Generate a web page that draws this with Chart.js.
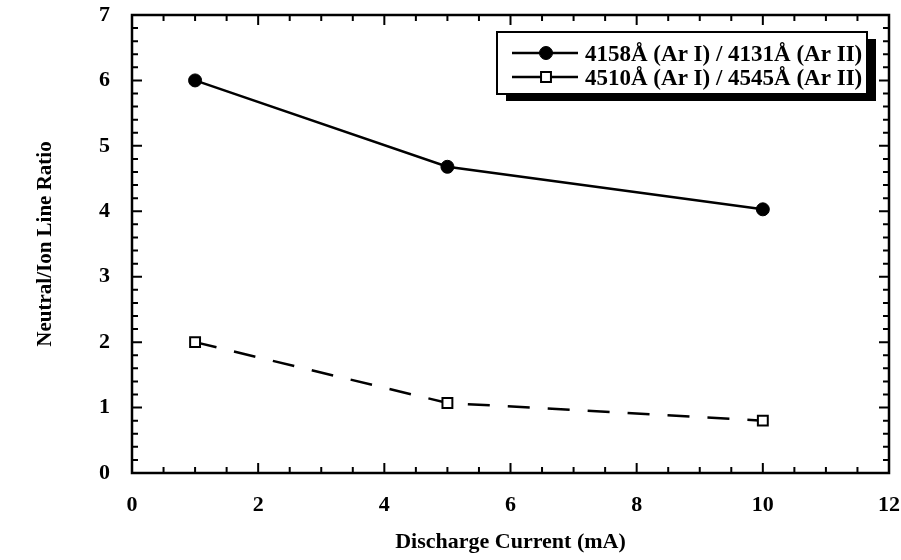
<!DOCTYPE html>
<html><head><meta charset="utf-8">
<script src="https://cdn.jsdelivr.net/npm/chart.js@4.4.1/dist/chart.umd.min.js"></script>
<style>html,body{margin:0;padding:0;background:#fff;}canvas{display:block;}</style>
</head><body>
<canvas id="c" width="901" height="560"></canvas>
<script>
const currents = [1, 5, 10];
const ratio4158over4131 = [6.0, 4.68, 4.03];
const ratio4510over4545 = [2.0, 1.07, 0.80];
const seriesLabels = ['4158Å (Ar I) / 4131Å (Ar II)', '4510Å (Ar I) / 4545Å (Ar II)'];
const xTickValues = [0, 2, 4, 6, 8, 10, 12];
const yTickValues = [0, 1, 2, 3, 4, 5, 6, 7];
const xTitle = 'Discharge Current (mA)';
const yTitle = 'Neutral/Ion Line Ratio';

const FONT = '"Liberation Serif", "Times New Roman", serif';

const frameTicks = {
  id: 'frameTicks',
  afterDatasetsDraw(chart) {
    const {ctx, chartArea: a, scales: {x, y}} = chart;
    ctx.save();
    ctx.strokeStyle = '#000';
    ctx.lineWidth = 2;
    ctx.setLineDash([]);
    ctx.beginPath();
    const xMin = x.min, xMax = x.max, xMinor = 0.5;
    const nx = Math.round((xMax - xMin) / xMinor);
    for (let i = 0; i <= nx; i++) {
      const v = xMin + i * xMinor;
      const px = x.getPixelForValue(v);
      const L = (i % 4 === 0) ? 10 : 6;
      ctx.moveTo(px, a.bottom); ctx.lineTo(px, a.bottom - L);
      ctx.moveTo(px, a.top); ctx.lineTo(px, a.top + L);
    }
    const yMin = y.min, yMax = y.max, yMinor = 0.2;
    const ny = Math.round((yMax - yMin) / yMinor);
    for (let j = 0; j <= ny; j++) {
      const v = yMin + j * yMinor;
      const py = y.getPixelForValue(v);
      const L = (j % 5 === 0) ? 10 : 6;
      ctx.moveTo(a.left, py); ctx.lineTo(a.left + L, py);
      ctx.moveTo(a.right, py); ctx.lineTo(a.right - L, py);
    }
    ctx.stroke();
    ctx.lineWidth = 2.5;
    ctx.strokeRect(a.left, a.top, a.right - a.left, a.bottom - a.top);
    ctx.restore();
  }
};

const boxLegend = {
  id: 'boxLegend',
  afterDraw(chart) {
    const ctx = chart.ctx;
    const x0 = 497, y0 = 32, w = 370, h = 62;
    ctx.save();
    ctx.fillStyle = '#000';
    ctx.fillRect(x0 + 9, y0 + 7, w, h);
    ctx.fillStyle = '#fff';
    ctx.fillRect(x0, y0, w, h);
    ctx.lineWidth = 2;
    ctx.strokeStyle = '#000';
    ctx.strokeRect(x0, y0, w, h);
    chart.data.datasets.forEach((ds, i) => {
      const yy = y0 + 21 + i * 24;
      ctx.setLineDash([]);
      ctx.lineWidth = 2.5;
      ctx.strokeStyle = '#000';
      ctx.beginPath();
      ctx.moveTo(512, yy); ctx.lineTo(578, yy);
      ctx.stroke();
      ctx.fillStyle = ds.pointBackgroundColor;
      ctx.strokeStyle = ds.pointBorderColor;
      ctx.lineWidth = ds.pointBorderWidth;
      Chart.helpers.drawPoint(ctx, {pointStyle: ds.pointStyle, radius: ds.pointRadius, borderWidth: ds.pointBorderWidth, rotation: 0}, 546, yy);
      ctx.fillStyle = '#000';
      ctx.font = 'bold 23px ' + FONT;
      ctx.textBaseline = 'middle';
      ctx.textAlign = 'left';
      ctx.fillText(ds.label, 585, yy + 2);
    });
    ctx.restore();
  }
};

function zeroPad(s) { s.paddingTop = 0; s.paddingBottom = 0; s.paddingLeft = 0; s.paddingRight = 0; }

new Chart(document.getElementById('c'), {
  type: 'line',
  data: {
    datasets: [
      {
        label: seriesLabels[0],
        data: currents.map((c, i) => ({x: c, y: ratio4158over4131[i]})),
        borderColor: '#000', borderWidth: 2.5,
        pointStyle: 'circle', pointRadius: 6.5,
        pointBackgroundColor: '#000', pointBorderColor: '#000', pointBorderWidth: 1,
        tension: 0, fill: false
      },
      {
        label: seriesLabels[1],
        data: currents.map((c, i) => ({x: c, y: ratio4510over4545[i]})),
        borderColor: '#000', borderWidth: 2.5, borderDash: [22, 18],
        pointStyle: 'rect', pointRadius: 7,
        pointBackgroundColor: '#fff', pointBorderColor: '#000', pointBorderWidth: 2,
        tension: 0, fill: false
      }
    ]
  },
  options: {
    responsive: false, animation: false, devicePixelRatio: 1,
    layout: {padding: {top: 15, right: 12, left: 0, bottom: 0}},
    plugins: {legend: {display: false}, tooltip: {enabled: false}},
    scales: {
      x: {
        type: 'linear', min: xTickValues[0], max: xTickValues[xTickValues.length - 1],
        afterBuildTicks: s => { s.ticks = xTickValues.map(v => ({value: v})); },
        afterFit: s => { s.height = 87; zeroPad(s); },
        grid: {display: false, drawTicks: false},
        border: {display: false},
        ticks: {padding: 19, font: {family: FONT, size: 22, weight: 'bold'}, color: '#000'},
        title: {display: true, text: xTitle, font: {family: FONT, size: 22, weight: 'bold'}, color: '#000', padding: {top: 0, bottom: 4}}
      },
      y: {
        type: 'linear', min: yTickValues[0], max: yTickValues[yTickValues.length - 1],
        afterBuildTicks: s => { s.ticks = yTickValues.map(v => ({value: v})); },
        afterFit: s => { s.width = 132; zeroPad(s); },
        grid: {display: false, drawTicks: false},
        border: {display: false},
        ticks: {padding: 22, font: {family: FONT, size: 22, weight: 'bold'}, color: '#000'},
        title: {display: true, text: yTitle, font: {family: FONT, size: 21, weight: 'bold'}, color: '#000', padding: {top: 33, bottom: 0}}
      }
    }
  },
  plugins: [frameTicks, boxLegend]
});
</script>
</body></html>
